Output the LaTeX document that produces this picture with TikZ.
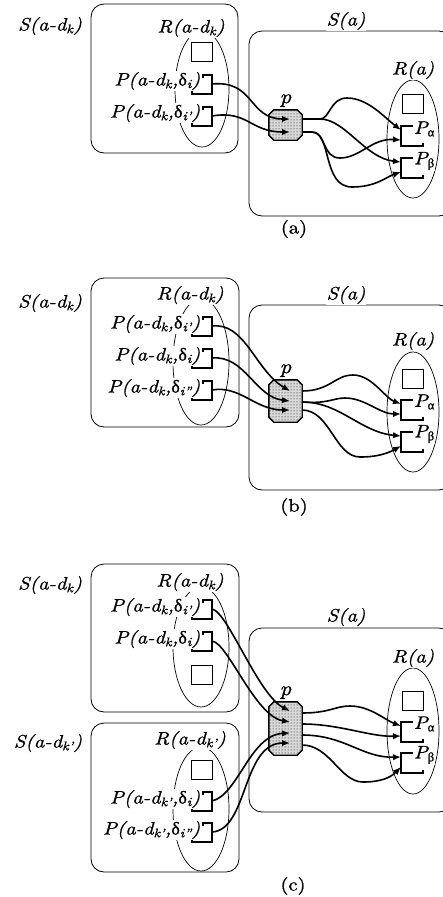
\documentclass[tikz,border=0pt]{standalone}
\usepackage{fontspec}
\newfontfamily\lblfont{lmroman10}[Extension=.otf, UprightFont=*-regular, ItalicFont=*-italic,
	FakeStretch=1.14, FakeBold=1]
\newfontfamily\grk{Liberation Serif}[FakeBold=1]
\usetikzlibrary{arrows.meta,patterns,positioning}

\newcommand{\dlt}{{\grk\upshape δ}}
\newcommand{\alp}{{\grk\upshape α}}
\newcommand{\bet}{{\grk\upshape β}}

\tikzset{
	set/.style={draw, rounded corners=13pt, line width=0.8pt},
	ell/.style={line width=0.7pt},
	lbl/.style={fill=white, inner sep=0.6pt, font=\lblfont\itshape\fontsize{18}{21}\selectfont},
	captxt/.style={font=\lblfont\fontsize{18}{21}\selectfont},
	slot/.style={line width=1.8pt},
	sq/.style={draw, line width=1.8pt, minimum width=21pt, minimum height=19pt, inner sep=0pt},
	proc/.style={minimum width=33pt, inner sep=0pt},
	procline/.style={line width=1.4pt, preaction={fill=gray!30}, pattern=dots},
	plbl/.style={inner sep=0.6pt, font=\lblfont\itshape\fontsize{20}{22}\selectfont},
	conn/.style={line width=1.6pt, -{Latex[length=8pt,width=6.5pt]}}
}

\begin{document}
\begin{tikzpicture}[x=1pt, y=-1pt]
	\useasboundingbox (0,0) rectangle (443,897);

	% --- (a) ---
	\draw[set] (91,4) rectangle (238,153);
	\draw[set] (249,31) rectangle (452,216);
	\draw[ell] (202,89) ellipse [x radius=27, y radius=58];
	\draw[ell] (413,139) ellipse [x radius=26, y radius=59];
	\node[sq] (sqa) at (202,52) {};
	\node[sq] (sqaR) at (413,104) {};
	\foreach \y/\n in {75/ka1,107/ka2} {
			\draw[slot] (203,\y+3) -- (203,\y) -- (212,\y) -- (212,\y+19) -- (192,\y+19) -- (192,\y+16);
			\coordinate (\n) at (212,\y+9);
		}
	\foreach \y/\n in {126/aPa,158/aPb} {
			\draw[slot] (423,\y+3) -- (423,\y) -- (401,\y) -- (401,\y+20) -- (423,\y+20) -- (423,\y+17);
			\coordinate (\n1) at (401,\y+4);
			\coordinate (\n2) at (401,\y+14);
		}
	\node[lbl] (Ska) at (50,26) {S(a-d\textsubscript{k})};
	\node[lbl] (Rka) at (191,28) {R(a-d\textsubscript{k})};
	\node[lbl] (Sa) at (346,21) {S(a)};
	\node[lbl] (Ra) at (413,70) {R(a)};
	\node[lbl, anchor=east] (Pa1) at (201,81) {P(a-d\textsubscript{k},\dlt\textsubscript{i})};
	\node[lbl, anchor=east] (Pa2) at (201,113) {P(a-d\textsubscript{k},\dlt\textsubscript{i’})};
	\node[lbl, anchor=west] (Paa) at (413,129) {P\textsubscript{\alp}};
	\node[lbl, anchor=west] (Pab) at (413,161) {P\textsubscript{\bet}};

	\node[proc, minimum height=30pt] (pa) at (285.5,125) {};
	\draw[procline] ([yshift=-5pt]pa.north west) -- ([xshift=5pt]pa.north west) -- ([xshift=-5pt]pa.north east) -- ([yshift=-5pt]pa.north east)
		-- ([yshift=5pt]pa.south east) -- ([xshift=-5pt]pa.south east) -- ([xshift=5pt]pa.south west) -- ([yshift=5pt]pa.south west) -- cycle;
	\node[plbl, above=2pt of pa] (pla) {p};
	\coordinate (ia1) at (290,119);
	\coordinate (ia2) at (290,132);
	\coordinate (oa1) at (302,119);
	\coordinate (oa2) at (302,132);

	\draw[conn] (ka1) .. controls (255,80) and (248,119) .. (ia1);
	\draw[conn] (ka2) .. controls (248,110) and (250,132) .. (ia2);
	\draw[conn] (oa1) -- (320,119) .. controls (330,119) and (330,98) .. (347,98) .. controls (368,98) and (385,118) .. (aPa1);
	\draw[conn] (oa1) -- (320,119) .. controls (345,119) and (365,158) .. (aPb1);
	\draw[conn] (oa2) -- (312,132) .. controls (326,132) and (322,158) .. (340,158) .. controls (360,158) and (372,138) .. (aPa2);
	\draw[conn] (oa2) -- (312,132) .. controls (332,132) and (322,187) .. (352,187) .. controls (376,187) and (386,177) .. (aPb2);

	\node[captxt] (capa) at (294,229) {(a)};

	% --- (b) ---
	\draw[set] (91,278) rectangle (239,427);
	\draw[set] (249,305) rectangle (452,490);
	\draw[ell] (201,362) ellipse [x radius=28, y radius=63];
	\draw[ell] (413,412) ellipse [x radius=26, y radius=60];
	\node[sq] (sqbR) at (413,379) {};
	\foreach \y/\n in {317/kb1,349/kb2,381/kb3} {
			\draw[slot] (203,\y+3) -- (203,\y) -- (212,\y) -- (212,\y+19) -- (192,\y+19) -- (192,\y+16);
			\coordinate (\n) at (212,\y+9);
		}
	\foreach \y/\n in {400/bPa,432/bPb} {
			\draw[slot] (423,\y+3) -- (423,\y) -- (401,\y) -- (401,\y+20) -- (423,\y+20) -- (423,\y+17);
			\coordinate (\n1) at (401,\y+4);
			\coordinate (\n2) at (401,\y+14);
		}
	\node[lbl] (Skb) at (50,303) {S(a-d\textsubscript{k})};
	\node[lbl] (Rkb) at (190,295) {R(a-d\textsubscript{k})};
	\node[lbl] (Sb) at (346,295) {S(a)};
	\node[lbl] (Rb) at (413,341) {R(a)};
	\node[lbl, anchor=east] (Pb1) at (201,324) {P(a-d\textsubscript{k},\dlt\textsubscript{i’})};
	\node[lbl, anchor=east] (Pb2) at (201,356) {P(a-d\textsubscript{k},\dlt\textsubscript{i})};
	\node[lbl, anchor=east] (Pb3) at (201,388) {P(a-d\textsubscript{k},\dlt\textsubscript{i”})};
	\node[lbl, anchor=west] (Pba) at (413,402) {P\textsubscript{\alp}};
	\node[lbl, anchor=west] (Pbb) at (413,434) {P\textsubscript{\bet}};

	\node[proc, minimum height=42pt] (pb) at (285.5,401) {};
	\draw[procline] ([yshift=-5pt]pb.north west) -- ([xshift=5pt]pb.north west) -- ([xshift=-5pt]pb.north east) -- ([yshift=-5pt]pb.north east)
		-- ([yshift=5pt]pb.south east) -- ([xshift=-5pt]pb.south east) -- ([xshift=5pt]pb.south west) -- ([yshift=5pt]pb.south west) -- cycle;
	\node[plbl, above=2pt of pb] (plb) {p};
	\coordinate (ib1) at (290,391);
	\coordinate (ib2) at (290,401);
	\coordinate (ib3) at (290,410);
	\coordinate (ob1) at (302,391);
	\coordinate (ob2) at (302,402);
	\coordinate (ob3) at (302,410);

	\draw[conn] (kb1) .. controls (245,322) and (255,370) .. (ib1);
	\draw[conn] (kb2) .. controls (245,355) and (255,397) .. (ib2);
	\draw[conn] (kb3) .. controls (240,385) and (255,410) .. (ib3);
	\draw[conn] (ob1) .. controls (330,391) and (335,375) .. (353,375) .. controls (372,375) and (385,398) .. (bPa1);
	\draw[conn] (ob2) .. controls (328,404) and (333,398) .. (345,398) .. controls (365,398) and (380,414) .. (bPa2);
	\draw[conn] (ob2) .. controls (340,402) and (360,432) .. (bPb1);
	\draw[conn] (ob3) .. controls (330,410) and (335,457) .. (360,457) .. controls (380,457) and (390,452) .. (bPb2);

	\node[captxt] (capb) at (294,507) {(b)};

	% --- (c) ---
	\draw[set] (91,564) rectangle (239,712);
	\draw[set] (91,723) rectangle (239,872);
	\draw[set] (249,628) rectangle (452,812);
	\draw[ell] (201,647) ellipse [x radius=28, y radius=60];
	\draw[ell] (201,809) ellipse [x radius=28, y radius=62];
	\draw[ell] (413,731) ellipse [x radius=26, y radius=63];
	\node[sq] (sqc1) at (202,675) {};
	\node[sq] (sqc2) at (202,770) {};
	\node[sq] (sqcR) at (413,701) {};
	\foreach \y/\n in {600/kc1,632/kc2,792/kc3,823/kc4} {
			\draw[slot] (203,\y+3) -- (203,\y) -- (212,\y) -- (212,\y+19) -- (192,\y+19) -- (192,\y+16);
			\coordinate (\n) at (212,\y+9);
		}
	\foreach \y/\n in {722/cPa,753/cPb} {
			\draw[slot] (423,\y+3) -- (423,\y) -- (401,\y) -- (401,\y+20) -- (423,\y+20) -- (423,\y+17);
			\coordinate (\n1) at (401,\y+4);
			\coordinate (\n2) at (401,\y+14);
		}
	\node[lbl] (Skc) at (50,585) {S(a-d\textsubscript{k})};
	\node[lbl] (Rkc) at (190,582) {R(a-d\textsubscript{k})};
	\node[lbl] (Skkc) at (48,743) {S(a-d\textsubscript{k’})};
	\node[lbl] (Rkkc) at (190,740) {R(a-d\textsubscript{k’})};
	\node[lbl] (Sc) at (346,617) {S(a)};
	\node[lbl] (Rc) at (413,658) {R(a)};
	\node[lbl, anchor=east] (Pc1) at (201,607) {P(a-d\textsubscript{k},\dlt\textsubscript{i’})};
	\node[lbl, anchor=east] (Pc2) at (201,639) {P(a-d\textsubscript{k},\dlt\textsubscript{i})};
	\node[lbl, anchor=east] (Pc3) at (201,799) {P(a-d\textsubscript{k’},\dlt\textsubscript{i})};
	\node[lbl, anchor=east] (Pc4) at (201,830) {P(a-d\textsubscript{k’},\dlt\textsubscript{i”})};
	\node[lbl, anchor=west] (Pca) at (413,724) {P\textsubscript{\alp}};
	\node[lbl, anchor=west] (Pcb) at (413,755) {P\textsubscript{\bet}};

	\node[proc, minimum height=53pt] (pc) at (285.5,728.5) {};
	\draw[procline] ([yshift=-5pt]pc.north west) -- ([xshift=5pt]pc.north west) -- ([xshift=-5pt]pc.north east) -- ([yshift=-5pt]pc.north east)
		-- ([yshift=5pt]pc.south east) -- ([xshift=-5pt]pc.south east) -- ([xshift=5pt]pc.south west) -- ([yshift=5pt]pc.south west) -- cycle;
	\node[plbl, above=2pt of pc] (plc) {p};
	\coordinate (ic1) at (290,711);
	\coordinate (ic2) at (290,722);
	\coordinate (ic3) at (290,733);
	\coordinate (ic4) at (290,743);
	\coordinate (oc1) at (302,713);
	\coordinate (oc2) at (302,724);
	\coordinate (oc3) at (302,735);
	\coordinate (oc4) at (302,745);

	\draw[conn] (kc1) .. controls (228,612) and (258,695) .. (ic1);
	\draw[conn] (kc2) .. controls (228,643) and (255,716) .. (ic2);
	\draw[conn] (kc3) .. controls (238,795) and (250,735) .. (ic3);
	\draw[conn] (kc4) .. controls (248,830) and (242,743) .. (ic4);
	\draw[conn] (oc1) .. controls (330,713) and (335,706) .. (350,706) .. controls (370,706) and (385,720) .. (cPa1);
	\draw[conn] (oc2) .. controls (340,724) and (370,737) .. (cPa2);
	\draw[conn] (oc3) .. controls (345,735) and (362,758) .. (cPb1);
	\draw[conn] (oc4) .. controls (330,745) and (340,782) .. (363,782) .. controls (380,782) and (390,778) .. (cPb2);

	\node[captxt] (capc) at (293,886) {(c)};

\end{tikzpicture}
\end{document}
